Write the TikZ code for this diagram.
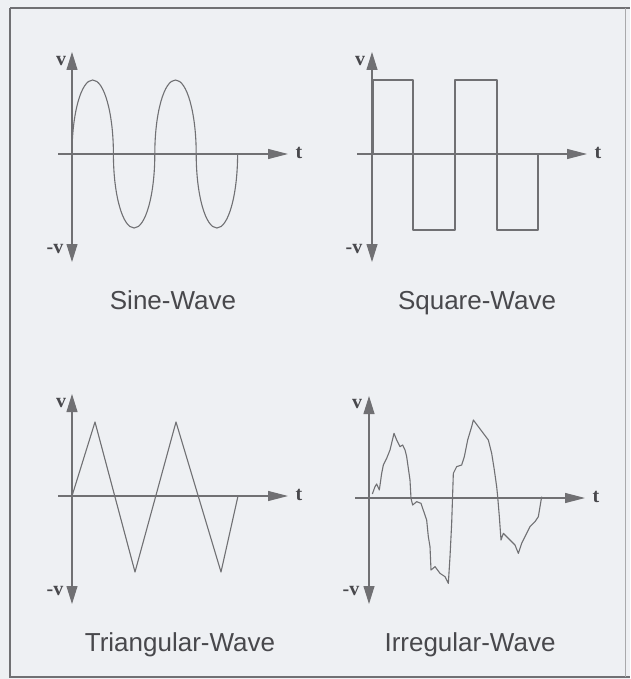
\documentclass[tikz,border=0pt]{standalone}
\usepackage{fontspec}
\setmainfont{Liberation Serif}
\setsansfont{Liberation Sans}
\usetikzlibrary{arrows.meta}
\definecolor{bgc}{RGB}{238,240,243}
\definecolor{linec}{RGB}{112,112,115}
\definecolor{txtc}{RGB}{72,72,76}
\tikzset{
  axis/.style={draw=linec, line width=1.1pt, -{Triangle[length=20pt,width=10pt]}},
  vaxis/.style={draw=linec, line width=1.1pt, {Triangle[length=18pt,width=11pt]}-{Triangle[length=18pt,width=11pt]}},
  wave/.style={draw=linec, line width=1.1pt, line join=round},
  vlab/.style={font=\fontsize{20}{20}\selectfont\bfseries, text=txtc, inner sep=0pt},
  title/.style={font=\sffamily\fontsize{26}{26}\selectfont, text=txtc, inner sep=0pt, anchor=base}
}
\begin{document}
\begin{tikzpicture}[x=1pt,y=-1pt]
\fill[bgc] (0,0) rectangle (630,679);
\useasboundingbox (0,0) rectangle (630,679);
\draw[linec, line width=1.2pt] (10,8) -- (630,8);
\draw[linec, line width=1.2pt] (10,8) -- (10,677) -- (630,677);
\draw[linec!60, line width=0.8pt] (625,8) -- (625,677);

% ---------- Sine ----------
\coordinate (s-vt) at (72,52); \coordinate (s-vb) at (72,262);
\coordinate (s-t0) at (58,154); \coordinate (s-t1) at (288,154);
\draw[vaxis] (s-vb) -- (s-vt);
\draw[axis] (s-t0) -- (s-t1);
\node[vlab] (s-v) at (61,61) {v};
\node[vlab] (s-mv) at (55,249) {-v};
\node[vlab] (s-t) at (299,153) {t};
\draw[wave] (72,154) arc[start angle=180, end angle=360, x radius=20.7, y radius=74]
  arc[start angle=180, end angle=0, x radius=20.7, y radius=74]
  arc[start angle=180, end angle=360, x radius=20.7, y radius=74]
  arc[start angle=180, end angle=0, x radius=20.7, y radius=74];
\node[title] (s-title) at (173,309) {Sine-Wave};

% ---------- Square ----------
\coordinate (q-vt) at (372,52); \coordinate (q-vb) at (372,262);
\coordinate (q-t0) at (357,154); \coordinate (q-t1) at (587,154);
\draw[vaxis] (q-vb) -- (q-vt);
\draw[axis] (q-t0) -- (q-t1);
\node[vlab] (q-v) at (360,61) {v};
\node[vlab] (q-mv) at (354,249) {-v};
\node[vlab] (q-t) at (598,153) {t};
\draw[wave] (373,154) -- (373,80) -- (413,80) -- (413,230) -- (455,230) -- (455,80)
  -- (497,80) -- (497,230) -- (538,230) -- (538,154);
\node[title] (q-title) at (477,309) {Square-Wave};

% ---------- Triangular ----------
\coordinate (r-vt) at (72,394); \coordinate (r-vb) at (72,604);
\coordinate (r-t0) at (58,496); \coordinate (r-t1) at (288,496);
\draw[vaxis] (r-vb) -- (r-vt);
\draw[axis] (r-t0) -- (r-t1);
\node[vlab] (r-v) at (61,403) {v};
\node[vlab] (r-mv) at (55,591) {-v};
\node[vlab] (r-t) at (299,495) {t};
\draw[wave] (72,496) -- (95,422) -- (135,572) -- (176,422) -- (221,572) -- (238,496);
\node[title] (r-title) at (180,651) {Triangular-Wave};

% ---------- Irregular ----------
\coordinate (i-vt) at (369,396); \coordinate (i-vb) at (369,604);
\coordinate (i-t0) at (355,498); \coordinate (i-t1) at (585,498);
\draw[vaxis] (i-vb) -- (i-vt);
\draw[axis] (i-t0) -- (i-t1);
\node[vlab] (i-v) at (357,404) {v};
\node[vlab] (i-mv) at (351,591) {-v};
\node[vlab] (i-t) at (596,497) {t};
\begin{scope}[shift={(315,340)}, scale=1/3]
\draw[wave] (172,462) -- (180,440) -- (185,432) -- (193,450) -- (200,400) -- (205,375)
 -- (215,355) -- (225,330) -- (237,280) -- (245,300) -- (255,320) -- (263,315) -- (270,330)
 -- (275,350) -- (285,420) -- (288,475) -- (293,495) -- (305,485) -- (318,490) -- (323,505)
 -- (335,540) -- (340,590) -- (345,620) -- (348,690) -- (360,680) -- (375,700) -- (390,710)
 -- (400,730) -- (405,650) -- (410,550) -- (415,400) -- (425,380) -- (440,375) -- (448,350)
 -- (458,300) -- (470,260) -- (475,240) -- (490,260) -- (505,280) -- (520,300) -- (530,340)
 -- (538,390) -- (545,440) -- (548,470) -- (553,530) -- (558,600) -- (565,580) -- (580,595)
 -- (600,615) -- (610,640) -- (620,610) -- (630,590) -- (645,560) -- (660,545) -- (670,530)
 -- (675,500) -- (680,470);
\end{scope}
\node[title] (i-title) at (470,651) {Irregular-Wave};
\end{tikzpicture}
\end{document}
